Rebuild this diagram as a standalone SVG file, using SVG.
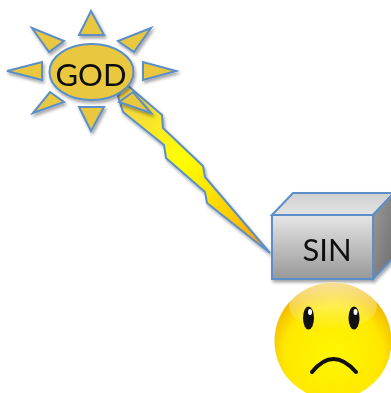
<svg xmlns="http://www.w3.org/2000/svg" width="391" height="393" viewBox="0 0 391 393">
  <style>
    .edge { stroke: #5b8ec8; stroke-width: 2; stroke-linejoin: miter; }
    .ray { fill: #e9c83f; }
    .label { font-family: Lato, "Open Sans", "Liberation Sans", sans-serif; fill: #111; text-anchor: middle; }
  </style>
  <defs>
    <filter id="shadow" x="-20%" y="-20%" width="140%" height="140%">
      <feDropShadow dx="1.5" dy="2.5" stdDeviation="1.8" flood-color="#000" flood-opacity="0.35"/>
    </filter>
    <linearGradient id="boltFill" gradientUnits="userSpaceOnUse" x1="122" y1="100" x2="270" y2="253">
      <stop offset="0" stop-color="#f3d24a"/>
      <stop offset="0.4" stop-color="#ffff00"/>
      <stop offset="0.75" stop-color="#ffcc00"/>
      <stop offset="1" stop-color="#ff9200"/>
    </linearGradient>
    <linearGradient id="frontFill" x1="0" y1="0" x2="0" y2="1">
      <stop offset="0" stop-color="#e6e6e6"/>
      <stop offset="1" stop-color="#989898"/>
    </linearGradient>
    <linearGradient id="topFill" x1="0" y1="0" x2="0" y2="1">
      <stop offset="0" stop-color="#cfcfcf"/>
      <stop offset="1" stop-color="#e4e4e4"/>
    </linearGradient>
    <linearGradient id="sideFill" x1="0" y1="0" x2="1" y2="1">
      <stop offset="0" stop-color="#9a9a9a"/>
      <stop offset="1" stop-color="#6e6e6e"/>
    </linearGradient>
    <radialGradient id="faceFill" cx="0.5" cy="0.62" r="0.6">
      <stop offset="0" stop-color="#fff700"/>
      <stop offset="0.7" stop-color="#ffe800"/>
      <stop offset="1" stop-color="#f0b400"/>
    </radialGradient>
    <linearGradient id="gloss" x1="0" y1="0" x2="0" y2="1">
      <stop offset="0" stop-color="#ffffff" stop-opacity="0.6"/>
      <stop offset="1" stop-color="#ffffff" stop-opacity="0"/>
    </linearGradient>
  </defs>

  <!-- lightning bolt from the sun down to the box -->
  <g id="connectors">
    <polygon id="bolt" class="edge" fill="url(#boltFill)" filter="url(#shadow)"
      points="126,84 162,115 163,128 203,166 205,177 270,253 207,203 205,192 166,158 164,145 123,112 118,96"/>
  </g>

  <!-- sun with eight rays around the GOD ellipse -->
  <g id="god" filter="url(#shadow)">
    <polygon class="ray edge" points="91,11 79,35 104,35"/>
    <polygon class="ray edge" points="91,131 79,107 104,107"/>
    <polygon class="ray edge" points="7,71 42,62 42,80"/>
    <polygon class="ray edge" points="176,71 143,62 143,80"/>
    <polygon class="ray edge" points="32,28 64,41 49,52"/>
    <polygon class="ray edge" points="151,28 118,41 134,52"/>
    <polygon class="ray edge" points="33,113 50,92 64,102"/>
    <polygon class="ray edge" points="151,113 133,92 119,102"/>
    <ellipse class="ray edge" cx="91.5" cy="72" rx="42" ry="28"/>
    <text class="label" x="91" y="86" font-size="31">GOD</text>
  </g>

  <!-- grey box labelled SIN -->
  <g id="sin" filter="url(#shadow)">
    <polygon class="edge" fill="url(#topFill)" points="272,215 293,193 394,193 373,215"/>
    <polygon class="edge" fill="url(#sideFill)" points="373,215 394,193 394,257 373,279"/>
    <rect class="edge" fill="url(#frontFill)" x="272" y="215" width="101" height="64"/>
    <text class="label" x="327" y="261" font-size="31">SIN</text>
  </g>

  <!-- sad face below the box -->
  <g id="face">
    <circle cx="333" cy="341" r="58.5" fill="url(#faceFill)"/>
    <ellipse cx="333" cy="306" rx="44" ry="24" fill="url(#gloss)"/>
    <ellipse cx="308.5" cy="318" rx="5.5" ry="11.5" fill="#111"/>
    <ellipse cx="354" cy="318" rx="5.5" ry="11.5" fill="#111"/>
    <ellipse cx="310" cy="312" rx="2" ry="3" fill="#fff"/>
    <ellipse cx="355.5" cy="312" rx="2" ry="3" fill="#fff"/>
    <path d="M312,372 Q333,346 356,372" fill="none" stroke="#111" stroke-width="4" stroke-linecap="round"/>
  </g>
</svg>
